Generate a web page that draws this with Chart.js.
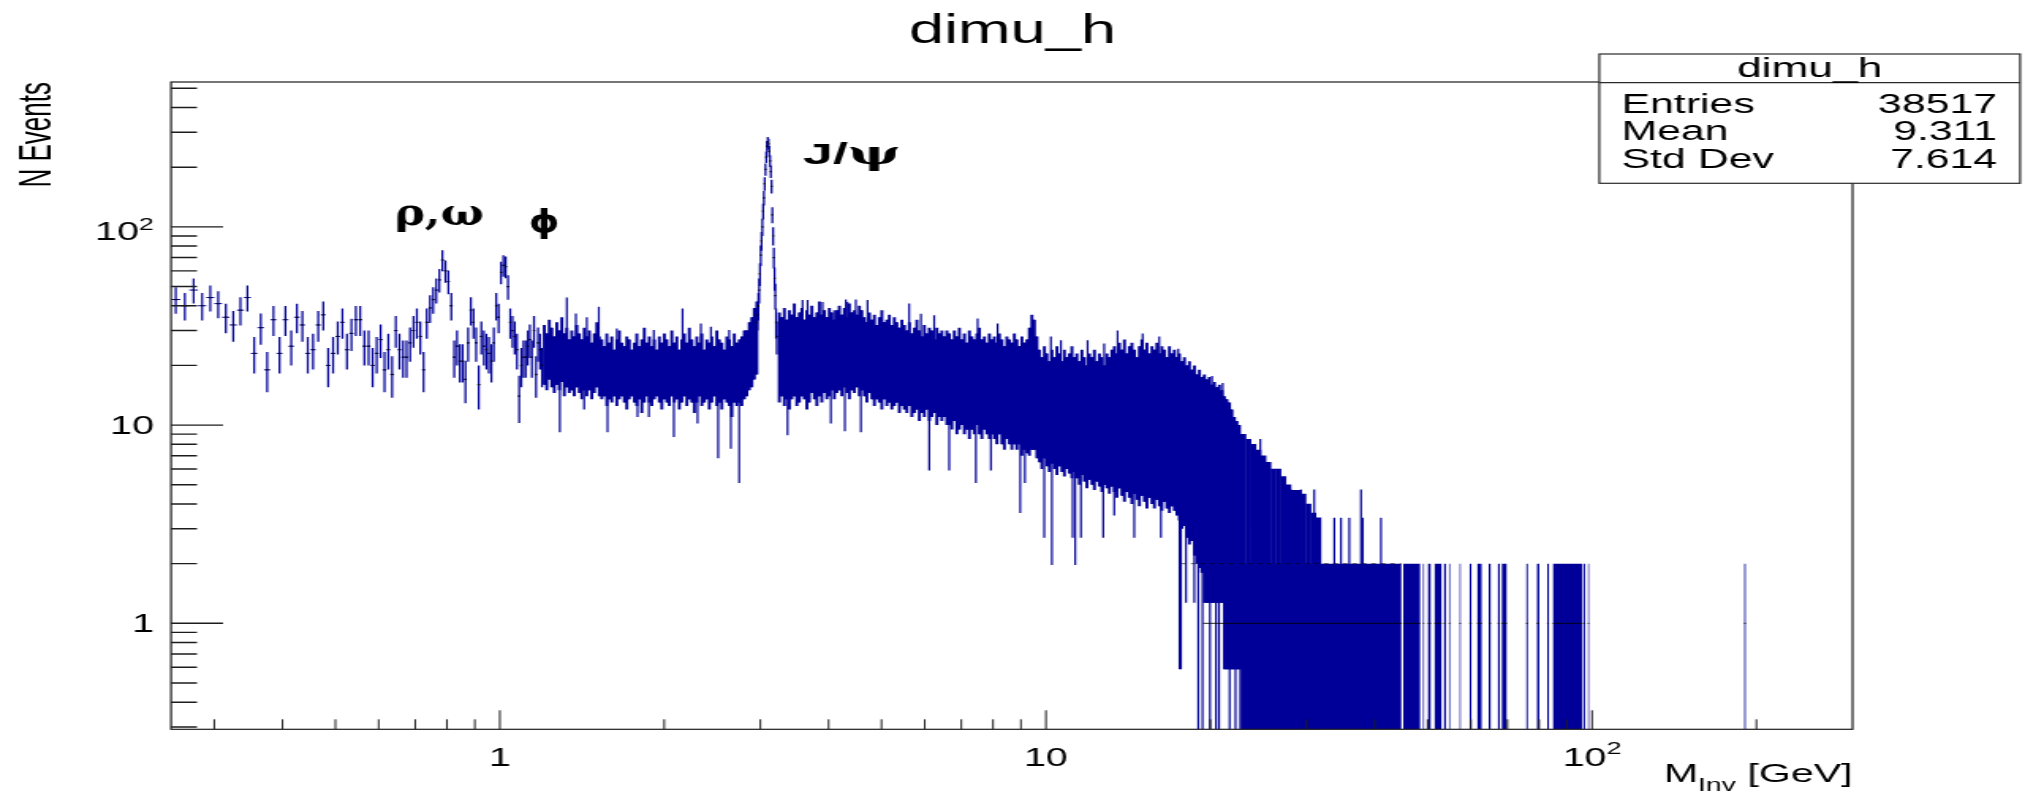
<!DOCTYPE html>
<html>
<head>
<meta charset="utf-8">
<script src="https://cdn.jsdelivr.net/npm/chart.js@4.4.1/dist/chart.umd.min.js"></script>
<style>
  html, body { margin: 0; padding: 0; background: #fff; overflow: hidden; }
  #wrap { width: 1280px; height: 792px; transform: scaleX(1.58203125); transform-origin: 0 0; }
  #c { display: block; }
</style>
</head>
<body>
<div id="wrap"><canvas id="c" width="1280" height="792"></canvas></div>
<script>
// ===================== DATA =====================
const histName = 'dimu_h';
const statsNames = ['Entries', 'Mean', 'Std Dev'];
const statsValues = ['38517', '9.311', '7.614'];
const xTitleMain = 'M';
const xTitleSub = 'Inv';
const xTitleUnit = ' [GeV]';
const yTitle = 'N Events';

const xRange = [0.25, 300];
const yRange = [0.292, 538];
const xMajorTicks = [1, 10, 100];
const xMinorTicks = [0.3, 0.4, 0.5, 0.6, 0.7, 0.8, 0.9, 2, 3, 4, 5, 6, 7, 8, 9,
                     20, 30, 40, 50, 60, 70, 80, 90, 200];
const yMajorTicks = [1, 10, 100];
const yMinorTicks = [0.3, 0.4, 0.5, 0.6, 0.7, 0.8, 0.9, 2, 3, 4, 5, 6, 7, 8, 9,
                     20, 30, 40, 50, 60, 70, 80, 90, 200, 300, 400, 500];
const tickMantissa = ['1', '10', '10'];
const tickExponent = ['', '', '2'];

// histogram bins, 0.01 GeV wide
const binWidth = 0.01;
const lowMassFirstEdge = 0.25;
const lowMassCounts = [43,40,48,40,44,41,35,32,38,44, 23,31,19,34,23,34,25,35,32,23,
                       24,32,36,20,23,28,33,24,29,34, 34,25,25,20,23,27,19,24,18,30,
                       24,22,22,26,30,33,28,19,33,39, 43,48,54,68,60,53,40,22,25,21,
                       21,17,26,38,33,26,16,28,25,24, 23,21,26,40,35,59,64,63,50,33,
                       30,28,24,14,20,22,22,25,27,22, 30,18,26,24,20];
const jpsiFirstEdge = 2.95;
const jpsiCounts = [33,36,40,48,58,72,85,100,120,140,165,195,225,255,268,262,240,215,
                    190,160,115,90,70,55,45,33,28];

// dense continuum 1.2 - 22.8 GeV: columns of overlapping error bars (lower / upper ends)
const bandFirstEdge = 1.2;
const bandColumnsPerDecade = 218.4;
const bandHigh = [
  32,29,34,31,28,33,30,35,29,31,27,30,28,32,29,27,31,28,30,26,29,33,28,
  27,25,29,26,28,24,27,30,26,25, 28,27,24,26,29,25,27,31,26,28, 25,27,24,28,26,29,27,25,30,26,
  28,24,27,29,26,31,27,25,28,26, 29,24,27,26,28,25,30,27,26,24, 28,27,25,29,26,27,28,30,
  30,33,35,39,42,
  null,null,null,null,null,null,null,null,
  37,35,39,34,38,36,41,35,37,39, 34,38,36,40,35,37,42,36,38,35, 39,37,34,38,40,36,39,35,41,37, 38,36,40,38,
  35,33,37,34,36,32,35,38,33,34,36,32,35,33,31,34,
  32,30,33,29,31,34,30,28,32,29,31,30,27,31,29,30,28,30,
  29,27,30,28,31,27,29,26,30,28,27,29,31,27,28,26,29,27,
  28,26,29,27,25,28,27,26,29,27,25,28,26,27,
  31,36,34,28,
  24,22,25,23,21,24,22,25,23,21,24,22,23,25,22,
  23,21,24,22,20,23,22,24,21,23,22,20,23,22,24,
  25,23,26,24,27,23,25,26,24,22,25,27,24,26,23,25,24,26,23,25,24,22,25,23,24,22,
  23,21,22,20,21,19,20,18,19,17.5,
  18,17,17.5,16,16.5,15.5,16,15,14,13.5,13,12,11,10.5,10,9];
const bandLow = [
  16,15,17,15.5,14.5,16,15,16.5,14,15.5,14.5,15,14,15.5,14.5,13.5,15,14,15,13.5,14.5,15.5,14,
  13.5,14,12.5,13.5,13,14,12.5,13.5,14,13, 12,13.5,14,13,12.5,13.5,11.5,13,14,13, 12.5,13.5,14,13,12,13.5,13,12.5,14,13,
  13.5,12,13,14,12.5,13.5,13,11.5,13,14, 12.5,13,13.5,12,13,14,12.5,13,12,13.5, 13,12.5,11,13,12.5,13,12.5,13.5,
  14,15,15.5,17,18,
  null,null,null,null,null,null,null,null,
  13,14,12.5,13.5,12,13.5,14,12.5,13,14, 13.5,12,13,14.5,13.5,12.5,14,13,14.5,13.5, 14,15,13.5,14.5,15,14,15.5,14.5,13.5,15, 14.5,15.5,14,15,
  14,13,14.5,13.5,12.5,13.5,13,12,13.5,12.5,13,12,12.5,13,11.5,12.5,
  12,11.5,12.5,11,11.5,12,10.5,11.5,11,12,10.5,11,11.5,10,11,10.5,11,10,
  10,9.5,10.5,9,9.5,10,9,9.5,8.5,9.5,9,10,9,8.5,9.5,9,8.5,9,
  8.5,8,9,8,7.5,8.5,8,7.5,8,7.5,8,7,7.5,7.2,
  7,7.5,7.5,6.8,
  6.5,6,6.8,6.2,5.8,6.4,6,5.6,6.2,5.8,5.5,6,5.7,5.4,5.8,
  5.4,5,5.6,5.2,4.8,5.3,5,4.7,5.2,4.9,4.6,5,4.8,4.5,4.9,
  4.6,4.3,4.8,4.4,4.1,4.6,4.3,4,4.5,4.2,3.9,4.4,4.1,3.8,4.3,4,3.8,4.2,3.9,3.7,4.1,3.8,3.6,3.9,3.7,3.5,
  3.3,3,3.1,2.7,2.5,2.6,2.2,2,1.9,1.8,
  1.27,1.27,1.27,1.27,1.27,1.27,1.27,1.27,0.586,0.586,0.586,0.586,0.586,0.586,0.586,0.586];

// 22.8 - 31.5 GeV: upper ends of the bins reaching down to the axis
const tailFirstEdge = 22.76;
const tailColumnsPerDecade = 109.2;
const tailHigh = [9,8.5,8,7.5,7,6.5,6,6,5.5,5,4.7,4.7,4.5,4,3.6,3.41];

// single error-bar spikes sticking out of the band
const spikeMass = [1.288,1.3266,1.3781,1.4268,1.4431,1.5181,1.5748,1.6379,1.7871,1.8744,
  1.9143,2.0832,2.161,2.302,2.3342,2.435,2.511,2.6299,2.6489,2.7433,3.3643,3.5845,3.6609,
  3.8996,3.926,4.0381,4.0947,4.2836,4.3017,4.3326,4.487,4.5826,4.7138,5.6189,5.9033,6.1135,
  6.2438,6.6516,7.4442,7.4978,7.9297,8.157,8.9732,9.1531,9.9287,10.213,10.256,10.653,11.193,
  11.316,11.59,11.922,12.732,12.786,13.337,13.529,14.512,15.035,16.126,16.242,17.473,17.562,
  17.673,18.05,18.693,19.012,19.352,19.5,19.974,20.143,20.487,20.747,21.075,21.697,22.243,
  22.603,22.689,23.576,24.695,28.095,29.309,30.999,33.736,34.702,35.94,37.758,38.03,41.077];
const spikeLow = [9.2,20,20,12,20,20,9.2,20,11,11, 20,8.7,20,10.2,20,20,6.8,20,7.6,5.1,8.9,20,20,
  20,22,10.2,22,9.3,22,22,22,9.2,22,20,20,5.9, 18,5.9,5.1,16,5.9,15,3.6,5.1,2.7,12,1.97,12,2.7,
  1.97,2.7,11,2.7,11,3.5,11,2.7,10,10,2.7,9,0.586, 0.586,1.27,1.27,0.01,0.01,6,0.01,6,0.01,0.01,6,0.01,0.01,
  4,0.01,3,3,2,2,2,0.586,0.586,0.586,1.27,0.586,0.586];
const spikeHigh = [20,44,36.6,20,35,39.5,20,30.7,20,20, 30.2,20,38.7,20,32.5,31.3,20,30.2,20,20,20,42.7,42.7,
  41.8,38,20,38,20,43,41.8,43,20,42.7,41,36.5,15, 35.8,15,15,34.5,15,32.5,12,12,10,28,10,26.8,10,
  10,10,26.8,10,25.8,10,30,10,29,28,10,24.3,8, 8,8,8,6,6,17.7,6,17.7,6,6,16.3,6,6,
  9.5,6,8.5,8.5,4.73,4.73,4.73,3.41,3.41,3.41,4.73,3.41,3.41];

// high-mass runs of bins holding one entry (error bar 0..2)
const singleCount = 1;
const singleFrom = [22.95,45.07,48.98,50.02,51.43,53.51,54.65,57.15,59.62,61.58,64.67,67.18,
                    68.32,75.70,79.19,82.72,84.73,96.56,98.20,189.8];
const singleTo   = [44.78,48.49,49.31,50.72,53.06,54.03,55.02,57.56,60.22,62.87,65.32,67.84,
                    69.87,76.34,80.07,83.42,96.16,97.21,98.87,191.4];
const singleMarkStart = 19.4;
const doubleMarkRange = [17.7, 44.78];

// ===================== LAYOUT / STYLE =====================
const FONT = '"Liberation Sans", Arial, Helvetica, sans-serif';
const GREEK = '"DejaVu Serif", "Liberation Serif", serif';
const BLUE = '#000099';
const annotations = [
  { parts: [['ρ,ω', 'bold 35px ' + GREEK]], mass: 0.642, count: 102, width: 56.5 },
  { parts: [['ϕ', 'bold 32px "DejaVu Sans", ' + FONT]], mass: 1.13, count: 94, width: 19.5 },
  { parts: [['J/', 'bold 30px ' + FONT], ['ψ', 'bold 31px ' + GREEK]], mass: 3.589, count: 208, width: 61.5 }
];

// ===================== BUILD POINTS =====================
function binsToPoints(firstEdge, counts) {
  return counts.map((n, i) => ({ x: firstEdge + (i + 0.5) * binWidth, n }));
}
const histBins = [...binsToPoints(lowMassFirstEdge, lowMassCounts),
                  ...binsToPoints(jpsiFirstEdge, jpsiCounts)];
const errorBarData = histBins.map(b => ({ x: b.x, y: [Math.max(b.n - Math.sqrt(b.n), 0.01), b.n + Math.sqrt(b.n)] }));
const binLineData = histBins.map(b => ({ x: b.x, y: b.n }));

function logColumn(firstEdge, perDecade, pos) {
  return Math.pow(10, Math.log10(firstEdge) + pos / perDecade);
}
const bandData = [];
const bandCoreData = [];   // overlap of neighbouring columns, fills the solid middle of the band
bandHigh.forEach((hi, j) => {
  if (hi === null) return;
  bandData.push({ x: logColumn(bandFirstEdge, bandColumnsPerDecade, j + 0.5), y: [bandLow[j], hi] });
  const hi2 = bandHigh[j + 1];
  if (hi2 !== null && hi2 !== undefined) {
    bandCoreData.push({ x: logColumn(bandFirstEdge, bandColumnsPerDecade, j + 1),
                        y: [Math.max(bandLow[j], bandLow[j + 1]), Math.min(hi, hi2)] });
  }
});
const tailData = tailHigh.map((hi, j) => ({ x: logColumn(tailFirstEdge, tailColumnsPerDecade, j + 0.5), y: [0.01, hi] }));
const spikeData = spikeMass.map((m, k) => ({ x: m, y: [spikeLow[k], spikeHigh[k]] }));

function segments(from, to, level) {
  const out = [];
  from.forEach((a, k) => {
    out.push({ x: a, y: level }, { x: to[k], y: level });
    if (k < from.length - 1) out.push({ x: (to[k] + from[k + 1]) / 2, y: null });
  });
  return out;
}
const singleTop = singleCount + Math.sqrt(singleCount);
const singleFillData = segments(singleFrom, singleTo, singleTop);
const singleMarkData = segments([singleMarkStart, ...singleFrom.slice(1)], singleTo, singleCount);
const doubleMarkData = segments([doubleMarkRange[0]], [doubleMarkRange[1]], 2);

const barCommon = { type: 'bar', stack: 'hist', grouped: true, borderWidth: 0, backgroundColor: BLUE, clip: 0 };

// ===================== PLUGIN: ROOT-style frame, ticks, texts =====================
function drawParts(ctx, parts, x, y, width) {
  let total = 0;
  const ws = parts.map(([s, f]) => { ctx.font = f; const w = ctx.measureText(s).width; total += w; return w; });
  ctx.save();
  ctx.translate(x, y);
  ctx.scale(width / total, 1);
  ctx.textAlign = 'left'; ctx.textBaseline = 'alphabetic';
  let cx = 0;
  parts.forEach(([s, f], k) => { ctx.font = f; ctx.fillText(s, cx, 0); cx += ws[k]; });
  ctx.restore();
}

const rootPlugin = {
  id: 'rootFrame',
  afterDatasetsDraw(chart) {
    const { ctx, chartArea: ca } = chart;
    const xs = chart.scales.x, ys = chart.scales.y;
    ctx.save();
    ctx.strokeStyle = '#1c1c1c';
    ctx.lineWidth = 1.4;
    ctx.beginPath();
    yMinorTicks.forEach(v => { const y = ys.getPixelForValue(v); ctx.moveTo(ca.left, y); ctx.lineTo(ca.left + 16.4, y); });
    yMajorTicks.forEach(v => { const y = ys.getPixelForValue(v); ctx.moveTo(ca.left, y); ctx.lineTo(ca.left + 32.9, y); });
    ctx.stroke();
    ctx.lineWidth = 1.0;
    ctx.beginPath();
    xMinorTicks.forEach(v => { const x = xs.getPixelForValue(v); ctx.moveTo(x, ca.bottom); ctx.lineTo(x, ca.bottom - 10); });
    xMajorTicks.forEach(v => { const x = xs.getPixelForValue(v); ctx.moveTo(x, ca.bottom); ctx.lineTo(x, ca.bottom - 19); });
    ctx.stroke();
    ctx.lineWidth = 1.2;
    ctx.strokeRect(ca.left, ca.top, ca.right - ca.left, ca.bottom - ca.top);

    ctx.fillStyle = '#000';
    yMajorTicks.forEach((v, k) => {
      const y = ys.getPixelForValue(v);
      const xr = ca.left - 10.8;
      ctx.textAlign = 'right'; ctx.textBaseline = 'alphabetic';
      if (tickExponent[k]) {
        ctx.font = '17px ' + FONT;
        const wS = ctx.measureText(tickExponent[k]).width;
        ctx.fillText(tickExponent[k], xr, y + 3.5);
        ctx.font = '25px ' + FONT;
        ctx.fillText(tickMantissa[k], xr - wS, y + 13);
      } else {
        ctx.font = '25px ' + FONT;
        ctx.fillText(tickMantissa[k], xr, y + 8.7);
      }
    });
    xMajorTicks.forEach((v, k) => {
      const x = xs.getPixelForValue(v);
      ctx.font = '25px ' + FONT;
      const wM = ctx.measureText(tickMantissa[k]).width;
      let wS = 0;
      if (tickExponent[k]) { ctx.font = '17px ' + FONT; wS = ctx.measureText(tickExponent[k]).width; }
      const x0 = x - (wM + wS) / 2;
      ctx.textAlign = 'left';
      ctx.font = '25px ' + FONT; ctx.fillText(tickMantissa[k], x0, ca.bottom + 37);
      if (wS) { ctx.font = '17px ' + FONT; ctx.fillText(tickExponent[k], x0 + wM, ca.bottom + 24.5); }
    });
    ctx.textAlign = 'right';
    ctx.font = '26px ' + FONT;
    const wUnit = ctx.measureText(xTitleUnit).width;
    ctx.fillText(xTitleUnit, ca.right, 781.7);
    ctx.font = '18px ' + FONT;
    const wSub = ctx.measureText(xTitleSub).width;
    ctx.fillText(xTitleSub, ca.right - wUnit, 790.5);
    ctx.font = '26px ' + FONT;
    ctx.fillText(xTitleMain, ca.right - wUnit - wSub, 781.7);
    ctx.save();
    ctx.translate(32.2, ca.top);
    ctx.rotate(-Math.PI / 2);
    ctx.scale(1, 1.12);
    ctx.font = '26px ' + FONT; ctx.textAlign = 'right';
    ctx.fillText(yTitle, 0, 0);
    ctx.restore();
    annotations.forEach(a => drawParts(ctx, a.parts, xs.getPixelForValue(a.mass), ys.getPixelForValue(a.count), a.width));
    ctx.textAlign = 'center';
    ctx.font = '40px ' + FONT;
    ctx.fillText(histName, chart.width / 2, 42.7);
    const bx0 = 1010.9, by0 = 54, bx1 = 1276.9, by1 = 183.3;
    ctx.fillStyle = '#fff';
    ctx.fillRect(bx0, by0, bx1 - bx0, by1 - by0);
    ctx.strokeStyle = '#2a2a2a'; ctx.lineWidth = 1.2;
    ctx.strokeRect(bx0, by0, bx1 - bx0, by1 - by0);
    ctx.beginPath(); ctx.moveTo(bx0, 82.7); ctx.lineTo(bx1, 82.7); ctx.stroke();
    ctx.fillStyle = '#000';
    ctx.font = '28px ' + FONT; ctx.textAlign = 'center';
    ctx.fillText(histName, (bx0 + bx1) / 2, 76.7);
    ctx.font = '27px ' + FONT;
    const rowBase = [112.7, 140.2, 168.2];
    statsNames.forEach((n, k) => {
      ctx.textAlign = 'left'; ctx.fillText(n, 1025.1, rowBase[k]);
      ctx.textAlign = 'right'; ctx.fillText(statsValues[k], 1262.2, rowBase[k]);
    });
    ctx.restore();
  }
};

// ===================== CHART =====================
new Chart(document.getElementById('c'), {
  type: 'bar',
  data: {
    datasets: [
      { type: 'scatter', label: 'markers', data: binLineData, order: 0, clip: 0,
        pointStyle: 'rect', pointRadius: 0.9, pointBackgroundColor: '#000', pointBorderWidth: 0 },
      { type: 'line', label: 'single marks', data: singleMarkData, order: 1, clip: 0,
        borderColor: 'rgba(0,0,0,0.85)', borderWidth: 1, pointRadius: 0, fill: false, spanGaps: false },
      { type: 'line', label: 'double marks', data: doubleMarkData, order: 1, clip: 0,
        borderColor: 'rgba(0,0,0,0.6)', borderWidth: 1, borderDash: [3, 3], pointRadius: 0, fill: false },
      { type: 'scatter', label: 'bin widths', data: binLineData, order: 2, clip: 0,
        pointStyle: 'line', pointBorderColor: BLUE, pointBackgroundColor: BLUE, pointBorderWidth: 1,
        pointRadius: c => {
          if (!c.raw) return 0;
          const xs = c.chart.scales.x;
          return Math.abs(xs.getPixelForValue(c.raw.x + binWidth / 2) - xs.getPixelForValue(c.raw.x - binWidth / 2)) / 2;
        } },
      { ...barCommon, label: 'error bars', data: errorBarData, order: 3, barThickness: 1.26, inflateAmount: 0 },
      { ...barCommon, label: 'spikes', data: spikeData, order: 4, barThickness: 1.2, inflateAmount: 0 },
      { ...barCommon, label: 'band', data: bandData, order: 5, barThickness: 1.9, inflateAmount: 0 },
      { ...barCommon, label: 'band core', data: bandCoreData, order: 6, barThickness: 1.9, inflateAmount: 0 },
      { ...barCommon, label: 'tail', data: tailData, order: 5, barThickness: 3.2, inflateAmount: 0.2 },
      { type: 'line', label: 'single bins', data: singleFillData, order: 5, clip: 0,
        borderColor: 'rgba(0,0,0,0)', borderWidth: 0, pointRadius: 0, fill: 'start',
        backgroundColor: BLUE, spanGaps: false, tension: 0 }
    ]
  },
  options: {
    responsive: false, animation: false, devicePixelRatio: 1, events: [],
    layout: { padding: { left: 108.1, right: 109, top: 82, bottom: 62.7 } },
    plugins: { legend: { display: false }, title: { display: false }, tooltip: { enabled: false } },
    scales: {
      x: { type: 'logarithmic', min: xRange[0], max: xRange[1], offset: false, display: false,
           grid: { display: false, drawTicks: false, offset: false } },
      y: { type: 'logarithmic', min: yRange[0], max: yRange[1], stacked: false, beginAtZero: false,
           display: false, grid: { display: false, drawTicks: false } }
    }
  },
  plugins: [rootPlugin]
});
</script>
</body>
</html>
